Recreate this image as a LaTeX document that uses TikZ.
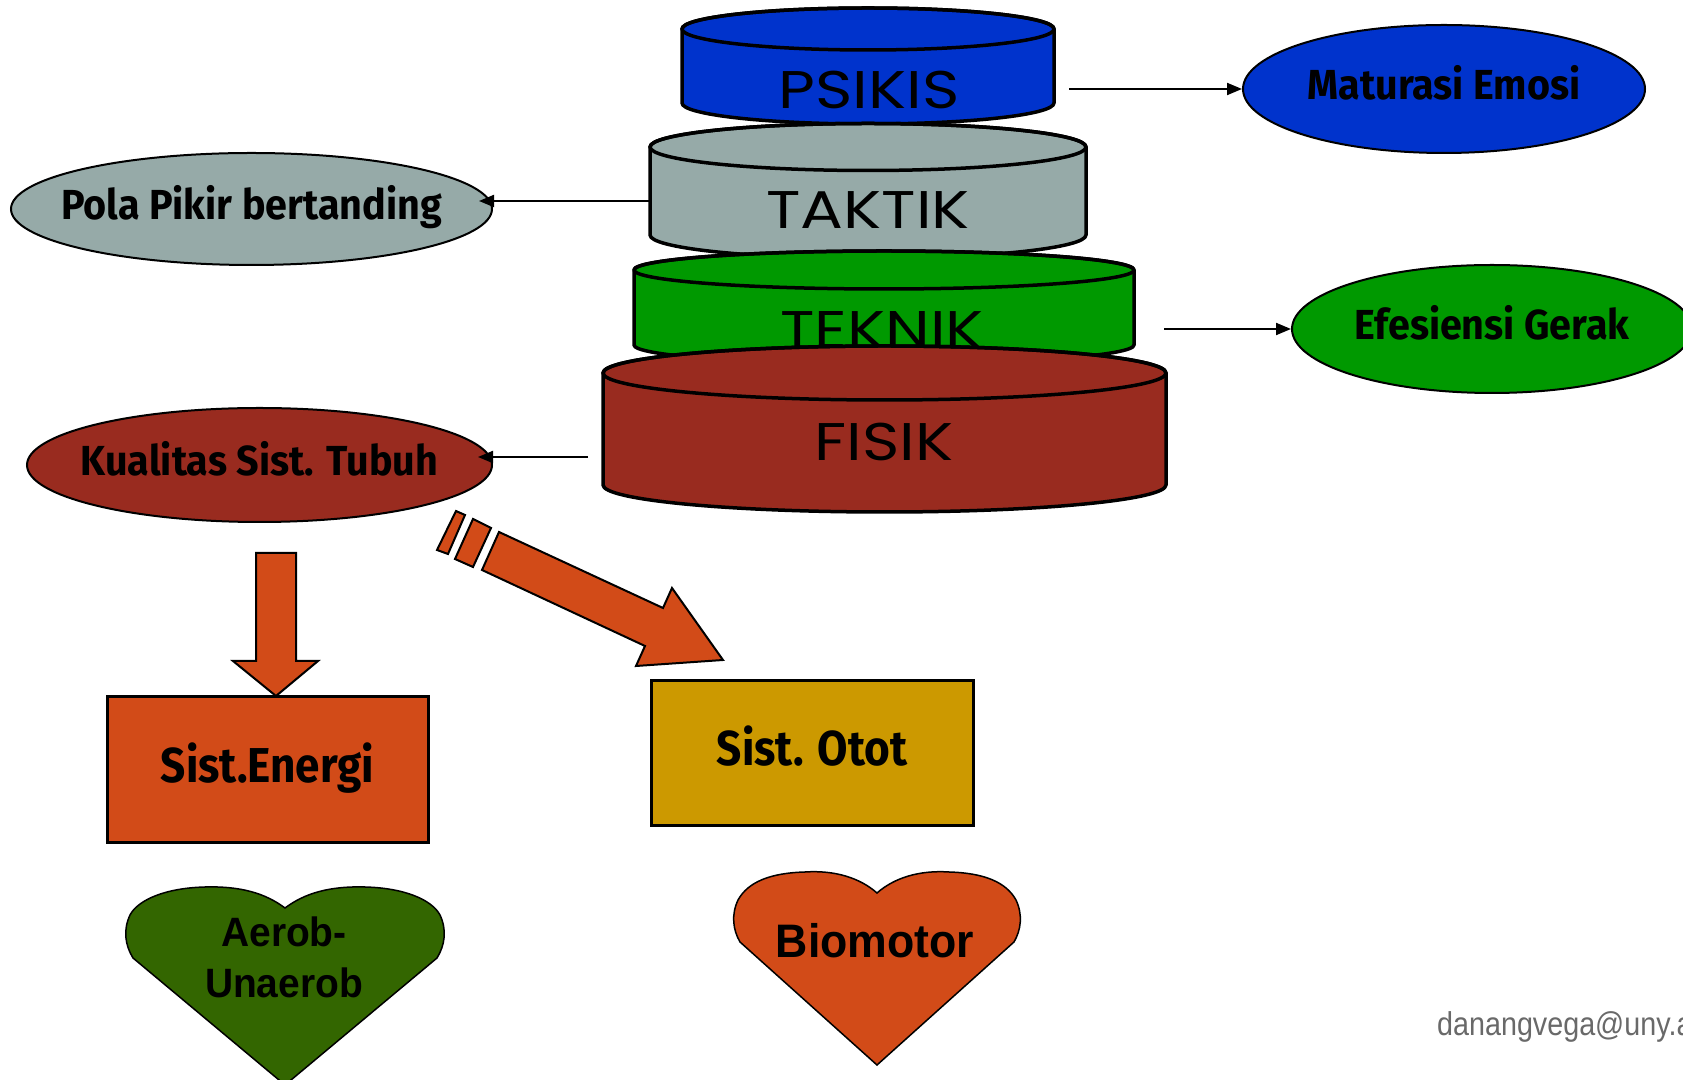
\documentclass[tikz,border=0pt]{standalone}
\usepackage{fontspec}
\usetikzlibrary{shapes.geometric,arrows.meta}
\newfontfamily\cylfont[FakeStretch=1.2]{Poppins}
\newfontfamily\labfont[FakeStretch=0.94]{Fira Sans}
\newfontfamily\boxfont[FakeStretch=0.9]{Fira Sans}
\newfontfamily\heartfont[FakeStretch=0.95]{Liberation Sans}
\newfontfamily\mailfont[FakeStretch=0.87]{Liberation Sans}
\definecolor{cBlue}{RGB}{0,51,204}
\definecolor{cGray}{RGB}{150,170,168}
\definecolor{cGreen}{RGB}{0,153,0}
\definecolor{cBrown}{RGB}{153,43,31}
\definecolor{cOrange}{RGB}{210,75,24}
\definecolor{cGold}{RGB}{204,153,0}
\definecolor{cDark}{RGB}{51,102,0}
\definecolor{cMail}{RGB}{105,105,105}
\newcommand\nowidth[1]{\makebox[0pt][c]{#1}}
% #1 cx, #2 rx, #3 y top-ellipse centre, #4 y bottom-ellipse centre, #5 ry, #6 colour
\newcommand\drawcyl[6]{%
  \filldraw[cylbody, fill=#6] (#1-#2,#3) -- (#1-#2,#4)
    arc[start angle=180, end angle=360, x radius=#2pt, y radius=#5pt]
    -- (#1+#2,#3)
    arc[start angle=0, end angle=180, x radius=#2pt, y radius=#5pt] -- cycle;
  \draw[cylbody] (#1,#3) ellipse[x radius=#2pt, y radius=#5pt];
}
\begin{document}
\begin{tikzpicture}[x=1pt,y=1pt,
  cylbody/.style={line width=3.5pt, line join=round, draw=black},
  cyltext/.style={inner sep=0pt, font=\cylfont\fontsize{53}{53}\selectfont, text height=37pt, text depth=0pt},
  ell/.style={ellipse, draw=black, line width=2pt, inner sep=0pt, font=\labfont\bfseries\fontsize{42}{42}\selectfont, text height=30pt, text depth=8pt},
  sbox/.style={rectangle, draw=black, line width=3pt, inner sep=0pt, font=\boxfont\bfseries\fontsize{49}{49}\selectfont, text height=34pt, text depth=9pt},
  conn/.style={line width=2pt, -{Triangle[length=15pt,width=12pt]}},
  blockarrow/.style={fill=cOrange, draw=black, line width=2pt, line join=miter},
  heart/.style={draw=black, line width=1.5pt},
  hearttext/.style={inner sep=0pt, font=\heartfont\bfseries\fontsize{47}{47}\selectfont, text height=34pt, text depth=0pt}
]
\useasboundingbox (0,0) rectangle (1683,1079);
\clip (0,0) rectangle (1683,1079);

% stacked cylinders
\drawcyl{868}{186}{1050}{976}{21}{cBlue}
\node[cyltext] (psikis) at (869,989) {PSIKIS};
\drawcyl{868}{218}{932}{844}{23.5}{cGray}
\node[cyltext] (taktik) at (868,869) {TAKTIK};
\drawcyl{884}{250}{809}{734}{19}{cGreen}
\node[cyltext] (teknik) at (882,748.5) {TEKNIK};
\drawcyl{884.5}{281.5}{706}{594}{27}{cBrown}
\node[cyltext] (fisik) at (884,637) {FISIK};

% ellipses
\node[ell, fill=cBlue, minimum width=402pt, minimum height=128pt] (matur) at (1444,990) {\nowidth{Maturasi Emosi}};
\node[ell, fill=cGray, minimum width=481pt, minimum height=112pt] (pola) at (251.5,870) {\nowidth{Pola Pikir bertanding}};
\node[ell, fill=cGreen, minimum width=400pt, minimum height=128pt] (efes) at (1492,750) {\nowidth{Efesiensi Gerak}};
\node[ell, fill=cBrown, minimum width=465pt, minimum height=114pt] (kual) at (259.5,614) {\nowidth{Kualitas Sist. Tubuh}};

% connector start points
\coordinate (psikisR) at (1069,990);
\coordinate (taktikL) at (650,878);
\coordinate (teknikR) at (1164,750);
\coordinate (fisikL) at (588,622);

\draw[conn] (psikisR) -- (matur.west);
\draw[conn] (teknikR) -- (efes.west);
\draw[conn, shorten >=-14pt] (taktikL) -- (taktikL -| pola.east);
\draw[conn, shorten >=-15pt] (fisikL) -- (fisikL -| kual.east);

% boxes
\node[sbox, fill=cOrange, minimum width=321pt, minimum height=146pt] (energi) at (267.5,309) {Sist.Energi};
\node[sbox, fill=cGold, minimum width=322pt, minimum height=145pt] (otot) at (812,325.5) {Sist. Otot};

% block arrows
\filldraw[blockarrow] (256,526) -- (256,418) -- (233,418) -- (276,383) -- (318,418) -- (296,418) -- (296,526) -- cycle;
\filldraw[blockarrow] (499,547) -- (663,471) -- (672,491) -- (723,419) -- (636,413) -- (645,433) -- (482,509) -- cycle;
\filldraw[blockarrow] (473,560) -- (491,551) -- (473,512) -- (455,520) -- cycle;
\filldraw[blockarrow] (456,568) -- (465,564) -- (448,525) -- (437,529) -- cycle;

% hearts
\filldraw[heart, fill=cDark] (285,171)
  .. controls (265,186) and (240,193) .. (205,192)
  .. controls (165,191) and (138,179) .. (130,164)
  .. controls (123,149) and (125,134) .. (133,121)
  -- (285,-6) -- (437,121)
  .. controls (445,134) and (447,149) .. (440,164)
  .. controls (432,179) and (405,191) .. (365,192)
  .. controls (330,193) and (305,186) .. (285,171) -- cycle;
\node[inner sep=0pt, align=center, font=\heartfont\bfseries\fontsize{41}{51}\selectfont] (aerob) at (284,122) {Aerob-\\Unaerob};

\filldraw[heart, fill=cOrange] (877,186)
  .. controls (860,201) and (835,209) .. (805,207)
  .. controls (770,206) and (748,197) .. (738,179)
  .. controls (731,164) and (733,149) .. (740,137)
  -- (877,14) -- (1014,137)
  .. controls (1021,149) and (1023,164) .. (1016,179)
  .. controls (1006,197) and (984,206) .. (949,207)
  .. controls (919,209) and (894,201) .. (877,186) -- cycle;
\node[hearttext] (bio) at (875,139) {Biomotor};

% footer
\node[anchor=base west, inner sep=0pt, text=cMail, font=\mailfont\fontsize{33}{33}\selectfont] (mail) at (1437,44) {danangvega@uny.ac.id};
\end{tikzpicture}
\end{document}
